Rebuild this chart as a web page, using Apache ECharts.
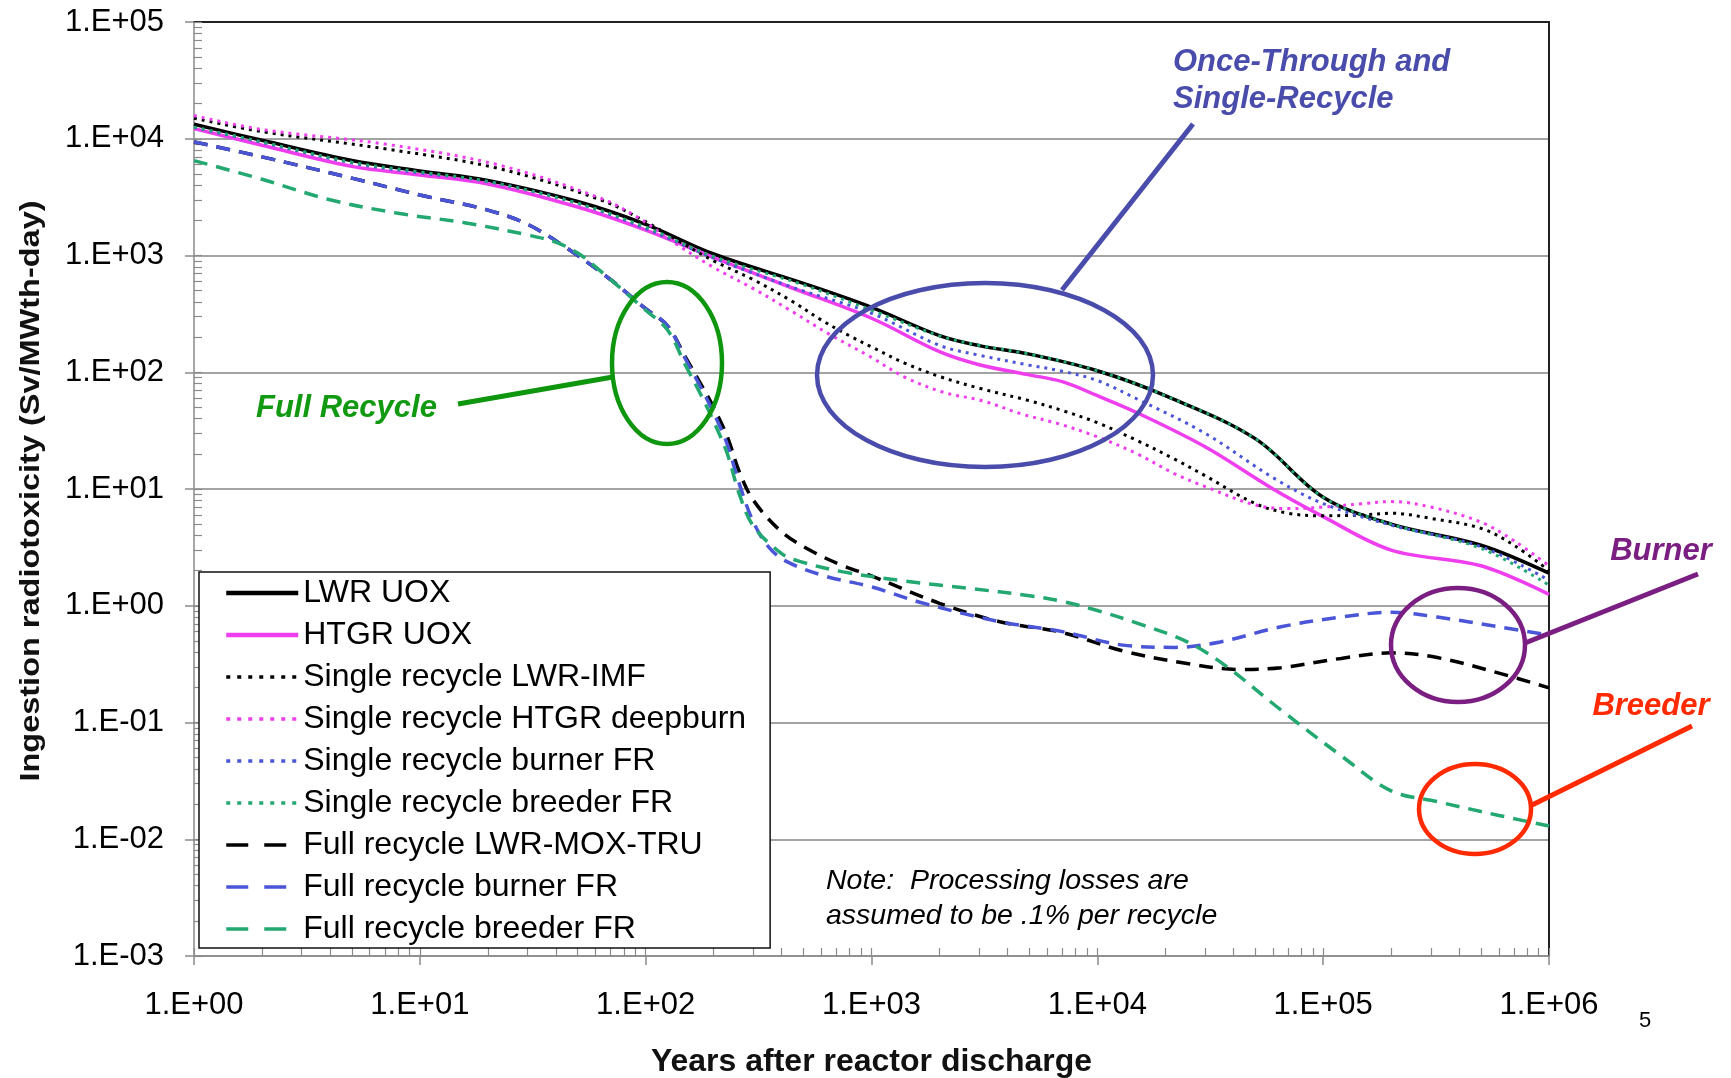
<!DOCTYPE html>
<html>
<head>
<meta charset="utf-8">
<script src="https://cdn.jsdelivr.net/npm/echarts@6/dist/echarts.min.js"></script>
<style>
  html, body { margin: 0; padding: 0; background: #ffffff; }
  #chart { width: 1731px; height: 1078px; }
</style>
</head>
<body>
<div id="chart"></div>
<script>
// Tick labels for the two logarithmic axes
const xTickLabels = ['1.E+00', '1.E+01', '1.E+02', '1.E+03', '1.E+04', '1.E+05', '1.E+06'];
const yTickLabels = ['1.E-03', '1.E-02', '1.E-01', '1.E+00', '1.E+01', '1.E+02', '1.E+03', '1.E+04', '1.E+05'];

// Years after discharge (x) and ingestion radiotoxicity in Sv/MWth-day (y), one pair of arrays per fuel cycle
const lwrUoxYears = [1, 2, 5, 10, 20, 50, 100, 200, 500, 1000, 2000, 3000, 5000, 1e4, 2e4, 5e4, 1e5, 2e5, 5e5, 1e6];
const lwrUoxTox   = [13300, 9700, 6500, 5300, 4400, 2900, 1850, 1030, 577, 360, 206, 169, 143, 103, 63, 27, 8.5, 5.0, 3.3, 1.9];

const htgrUoxYears = [1, 2, 5, 10, 20, 50, 100, 200, 440, 1000, 2000, 3000, 5000, 7000, 1e4, 1.5e4, 3e4, 6e4, 1e5, 2e5, 5e5, 1e6];
const htgrUoxTox   = [12200, 8800, 5800, 4900, 4100, 2600, 1650, 960, 532, 290, 150, 116, 95, 83, 63, 45, 23, 10, 5.8, 3.0, 2.2, 1.25];

const srLwrImfYears = [1, 2, 7, 22, 63, 100, 140, 200, 300, 450, 600, 800, 1000, 1400, 2000, 3000, 5000, 7000, 1e4, 1.5e4, 2.2e4, 3e4, 5e4, 7e4, 1e5, 1.5e5, 2e5, 3e5, 5e5, 7e5, 1e6];
const srLwrImfTox   = [15000, 11500, 8200, 5600, 3000, 1950, 1330, 900, 620, 400, 280, 205, 165, 120, 92, 73, 57, 47, 37, 26, 18, 13, 7.5, 6.2, 5.9, 6.0, 6.2, 5.6, 4.6, 3.3, 2.0];

const srHtgrYears = [1, 2, 7, 22, 63, 93, 137, 200, 300, 440, 650, 1000, 1400, 2100, 3100, 4600, 6800, 1e4, 1.5e4, 2.2e4, 3e4, 5e4, 7e4, 1e5, 1.5e5, 2e5, 3e5, 5e5, 7e5, 1e6];
const srHtgrTox   = [15800, 12000, 9000, 6000, 3100, 2100, 1250, 790, 520, 336, 212, 134, 91, 67, 57, 44, 36, 28, 20, 13.5, 10.5, 7.3, 6.8, 7.0, 7.5, 7.8, 7.0, 5.2, 3.6, 2.2];

const srBurnerYears = [1, 2, 5, 10, 20, 50, 100, 200, 440, 1000, 2000, 3000, 5000, 7000, 1e4, 1.5e4, 3e4, 6e4, 1e5, 2e5, 5e5, 1e6];
const srBurnerTox   = [12500, 9300, 6200, 5100, 4300, 2800, 1700, 950, 540, 320, 170, 140, 115, 102, 85, 59, 30, 12.5, 7.5, 4.9, 3.2, 1.65];

const srBreederYears = [1, 2, 5, 10, 20, 50, 100, 200, 500, 1000, 2000, 3000, 5000, 1e4, 2e4, 5e4, 1e5, 2e5, 5e5, 1e6];
const srBreederTox   = [12600, 9400, 6300, 5200, 4300, 2800, 1750, 980, 560, 340, 205, 170, 143, 103, 63, 27, 8.5, 5.0, 3.1, 1.5];

const frMoxYears = [1, 2, 5, 10, 20, 30, 45, 70, 100, 125, 150, 175, 200, 230, 260, 300, 400, 550, 750, 1000, 2000, 3700, 7000, 1.3e4, 2.5e4, 4.2e4, 6.5e4, 1.2e5, 2e5, 3.2e5, 6e5, 1e6];
const frMoxTox   = [9400, 7000, 4600, 3300, 2450, 1850, 1150, 620, 350, 250, 135, 80, 50, 28, 14, 8, 4.3, 2.9, 2.2, 1.8, 1.05, 0.73, 0.59, 0.41, 0.32, 0.285, 0.295, 0.354, 0.395, 0.36, 0.265, 0.198];

const frBurnerYears = [1, 2, 5, 10, 20, 30, 45, 70, 100, 125, 150, 175, 200, 230, 260, 300, 350, 420, 620, 1000, 1700, 3700, 7000, 1.3e4, 2.2e4, 3.5e4, 6.5e4, 1.2e5, 2e5, 3.2e5, 6e5, 1e6];
const frBurnerTox   = [9400, 7000, 4600, 3300, 2450, 1850, 1150, 620, 350, 250, 130, 75, 45, 24, 11, 5.2, 3.2, 2.4, 1.8, 1.45, 1.05, 0.73, 0.6, 0.46, 0.44, 0.49, 0.66, 0.80, 0.88, 0.80, 0.66, 0.56];

const frBreederYears = [1, 2, 4, 8, 16, 30, 40, 50, 60, 100, 125, 150, 175, 200, 230, 260, 300, 400, 480, 750, 1400, 2700, 5000, 7000, 1e4, 1.5e4, 2.5e4, 3.7e4, 6.5e4, 1.2e5, 2e5, 3.2e5, 6e5, 1e6];
const frBreederTox   = [6500, 4500, 3000, 2300, 1900, 1500, 1300, 1050, 800, 340, 230, 115, 65, 38, 20, 9, 4.8, 2.8, 2.4, 1.95, 1.63, 1.41, 1.22, 1.09, 0.91, 0.71, 0.49, 0.306, 0.128, 0.052, 0.026, 0.021, 0.016, 0.013];

const FONT = '"Liberation Sans", Arial, Helvetica, sans-serif';
const DOTS = [3, 5];
const DASHES = [14, 9];
const LEGEND_DOTS = [4, 7];
const LEGEND_DASHES = [22, 16];

function pairs(xs, ys) { return xs.map((x, i) => [x, ys[i]]); }

const seriesDefs = [
  { name: 'LWR UOX',                      years: lwrUoxYears,    tox: lwrUoxTox,    color: '#000000', type: 'solid', key: 'solid', width: 3.5 },
  { name: 'HTGR UOX',                     years: htgrUoxYears,   tox: htgrUoxTox,   color: '#EE3EEE', type: 'solid', key: 'solid', width: 3.5 },
  { name: 'Single recycle LWR-IMF',       years: srLwrImfYears,  tox: srLwrImfTox,  color: '#000000', type: DOTS,    key: LEGEND_DOTS, width: 3 },
  { name: 'Single recycle HTGR deepburn', years: srHtgrYears,    tox: srHtgrTox,    color: '#EE3EEE', type: DOTS,    key: LEGEND_DOTS, width: 3 },
  { name: 'Single recycle burner FR',     years: srBurnerYears,  tox: srBurnerTox,  color: '#4A55D8', type: DOTS,    key: LEGEND_DOTS, width: 3 },
  { name: 'Single recycle breeder FR',    years: srBreederYears, tox: srBreederTox, color: '#22A870', type: DOTS,    key: LEGEND_DOTS, width: 3 },
  { name: 'Full recycle LWR-MOX-TRU',     years: frMoxYears,     tox: frMoxTox,     color: '#000000', type: DASHES,  key: LEGEND_DASHES, width: 3.5 },
  { name: 'Full recycle burner FR',       years: frBurnerYears,  tox: frBurnerTox,  color: '#4A55D8', type: DASHES,  key: LEGEND_DASHES, width: 3.5 },
  { name: 'Full recycle breeder FR',      years: frBreederYears, tox: frBreederTox, color: '#22A870', type: DASHES,  key: LEGEND_DASHES, width: 3.5 }
];

// Tick positions (1..9 per decade) expressed in decades for the overlay axes
function decadeTicks(lo, hi) {
  const out = [];
  for (let d = lo; d < hi; d++) {
    for (let k = 1; k <= 9; k++) out.push(d + Math.log10(k));
  }
  out.push(hi);
  return out;
}

const chart = echarts.init(document.getElementById('chart'), null, { renderer: 'canvas' });

const tickLabelStyle = { fontFamily: FONT, fontSize: 31, color: '#000' };
const grayAxis = { show: true, onZero: false, lineStyle: { color: '#8a8a8a', width: 1.5 } };

const option = {
  backgroundColor: '#ffffff',
  animation: false,
  grid: { left: 194, right: 182, top: 22, bottom: 122, containLabel: false, outerBoundsMode: 'none' },
  xAxis: [
    {
      type: 'log', logBase: 10, min: 1, max: 1e6, position: 'bottom',
      axisLine: grayAxis,
      axisTick: { show: true, inside: false, length: 9, lineStyle: { color: '#8a8a8a', width: 1.5 } },
      axisLabel: { show: true, margin: 34, ...tickLabelStyle,
        formatter: v => xTickLabels[Math.round(Math.log10(v))] },
      splitLine: { show: false },
      name: 'Years after reactor discharge', nameLocation: 'middle', nameGap: 90,
      nameTextStyle: { fontFamily: FONT, fontSize: 32, fontWeight: 'bold', color: '#111' }
    },
    {
      type: 'value', min: 0, max: 6, position: 'bottom',
      axisLine: { show: false, onZero: false },
      axisTick: { show: true, inside: true, length: 8, customValues: decadeTicks(0, 6),
        lineStyle: { color: '#8a8a8a', width: 1.2 } },
      axisLabel: { show: false }, splitLine: { show: false }
    },
    {
      type: 'value', min: 0, max: 6, position: 'top',
      axisLine: { show: true, onZero: false, lineStyle: { color: '#222', width: 2 } },
      axisTick: { show: false }, axisLabel: { show: false }, splitLine: { show: false }
    }
  ],
  yAxis: [
    {
      type: 'log', logBase: 10, min: 1e-3, max: 1e5, position: 'left',
      axisLine: grayAxis,
      axisTick: { show: true, inside: false, length: 9, lineStyle: { color: '#8a8a8a', width: 1.5 } },
      axisLabel: { show: true, margin: 30, ...tickLabelStyle,
        formatter: v => yTickLabels[Math.round(Math.log10(v)) + 3] },
      splitLine: { show: true, lineStyle: { color: '#a3a3a3', width: 1.8 } }
    },
    {
      type: 'value', min: -3, max: 5, position: 'left',
      axisLine: { show: false, onZero: false },
      axisTick: { show: true, inside: true, length: 8, customValues: decadeTicks(-3, 5),
        lineStyle: { color: '#8a8a8a', width: 1.2 } },
      axisLabel: { show: false }, splitLine: { show: false }
    },
    {
      type: 'value', min: -3, max: 5, position: 'right',
      axisLine: { show: true, onZero: false, lineStyle: { color: '#222', width: 2 } },
      axisTick: { show: false }, axisLabel: { show: false }, splitLine: { show: false }
    }
  ],
  legend: {
    orient: 'vertical', left: 199, top: 572,
    padding: [4, 24, 2, 25],
    backgroundColor: '#ffffff',
    borderColor: '#111', borderWidth: 1.5,
    itemWidth: 72, itemHeight: 14, itemGap: 8,
    itemStyle: { opacity: 0 },
    textStyle: { fontFamily: FONT, fontSize: 32, lineHeight: 34, color: '#000' },
    data: seriesDefs.map(s => ({
      name: s.name,
      lineStyle: { type: s.key, width: s.type === 'solid' ? 4.5 : 3.5, cap: 'butt' }
    }))
  },
  series: seriesDefs.map(s => ({
    name: s.name,
    type: 'line',
    xAxisIndex: 0, yAxisIndex: 0,
    data: pairs(s.years, s.tox),
    smooth: 0.35,
    symbol: 'none', showSymbol: false,
    color: s.color,
    itemStyle: { color: s.color },
    lineStyle: { color: s.color, width: s.width, type: s.type, cap: 'butt' },
    emphasis: { disabled: true },
    z: 3
  })),
  graphic: [
    // rotated axis title
    { type: 'text', x: 31, y: 491, rotation: Math.PI / 2, scaleX: 1.16,
      style: { text: 'Ingestion radiotoxicity (Sv/MWth-day)', font: 'bold 28px ' + FONT, fill: '#111',
        align: 'center', verticalAlign: 'middle' } },
    // slide page number
    { type: 'text', x: 1645, y: 1021,
      style: { text: '5', font: '22px ' + FONT, fill: '#000', align: 'center', verticalAlign: 'middle' } },
    // note
    { type: 'text', x: 826, y: 881,
      style: { text: 'Note:  Processing losses are', font: 'italic 28.5px ' + FONT, fill: '#000',
        align: 'left', verticalAlign: 'middle' } },
    { type: 'text', x: 826, y: 916,
      style: { text: 'assumed to be .1% per recycle', font: 'italic 28.5px ' + FONT, fill: '#000',
        align: 'left', verticalAlign: 'middle' } },
    // full recycle callout
    { type: 'ellipse', shape: { cx: 667, cy: 363, rx: 55, ry: 81 },
      style: { fill: 'none', stroke: '#0E960E', lineWidth: 4.5 }, z: 10 },
    { type: 'line', shape: { x1: 458, y1: 404, x2: 613, y2: 377 },
      style: { stroke: '#0E960E', lineWidth: 5 }, z: 10 },
    { type: 'text', x: 256, y: 408,
      style: { text: 'Full Recycle', font: 'italic bold 31px ' + FONT, fill: '#119911',
        align: 'left', verticalAlign: 'middle' }, z: 10 },
    // once-through and single-recycle callout
    { type: 'ellipse', shape: { cx: 985, cy: 375, rx: 168, ry: 92 },
      style: { fill: 'none', stroke: '#4A4CAC', lineWidth: 4.5 }, z: 10 },
    { type: 'line', shape: { x1: 1193, y1: 124, x2: 1062, y2: 290 },
      style: { stroke: '#4A4CAC', lineWidth: 5 }, z: 10 },
    { type: 'text', x: 1173, y: 62,
      style: { text: 'Once-Through and', font: 'italic bold 31px ' + FONT, fill: '#4A4CAC',
        align: 'left', verticalAlign: 'middle' }, z: 10 },
    { type: 'text', x: 1173, y: 99,
      style: { text: 'Single-Recycle', font: 'italic bold 31px ' + FONT, fill: '#4A4CAC',
        align: 'left', verticalAlign: 'middle' }, z: 10 },
    // burner callout
    { type: 'ellipse', shape: { cx: 1458, cy: 645, rx: 67, ry: 57 },
      style: { fill: 'none', stroke: '#7A1E82', lineWidth: 4.5 }, z: 10 },
    { type: 'line', shape: { x1: 1698, y1: 574, x2: 1525, y2: 643 },
      style: { stroke: '#7A1E82', lineWidth: 5 }, z: 10 },
    { type: 'text', x: 1661, y: 551,
      style: { text: 'Burner', font: 'italic bold 31px ' + FONT, fill: '#7A1E82',
        align: 'center', verticalAlign: 'middle' }, z: 10 },
    // breeder callout
    { type: 'ellipse', shape: { cx: 1475, cy: 809, rx: 56, ry: 45 },
      style: { fill: 'none', stroke: '#FF2A00', lineWidth: 4.5 }, z: 10 },
    { type: 'line', shape: { x1: 1692, y1: 726, x2: 1530, y2: 806 },
      style: { stroke: '#FF2A00', lineWidth: 5 }, z: 10 },
    { type: 'text', x: 1651, y: 706,
      style: { text: 'Breeder', font: 'italic bold 31px ' + FONT, fill: '#FF2A00',
        align: 'center', verticalAlign: 'middle' }, z: 10 }
  ]
};

chart.setOption(option);
</script>
</body>
</html>
